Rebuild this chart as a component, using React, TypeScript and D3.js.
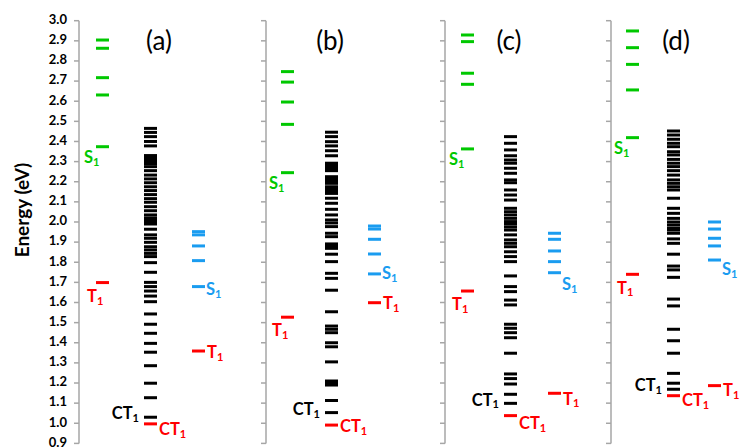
import * as d3 from 'd3';

// Energy levels per panel (eV)
const panelLabels = ['(a)', '(b)', '(c)', '(d)'];

const greenS = [
  [2.904, 2.863, 2.717, 2.631, 2.374],
  [2.747, 2.695, 2.596, 2.485, 2.245],
  [2.929, 2.896, 2.739, 2.684, 2.363],
  [2.949, 2.866, 2.783, 2.656, 2.419],
];
const redT1Left = [1.699, 1.527, 1.657, 1.740];

const ctLevels = [
  [2.465, 2.445, 2.424, 2.40, 2.378, 2.33, 2.32, 2.31, 2.30, 2.29, 2.275, 2.255, 2.233, 2.214, 2.195,
    2.175, 2.156, 2.136, 2.116, 2.098, 2.076, 2.056, 2.035, 2.02, 2.01, 2.00, 1.99, 1.964, 1.936, 1.919,
    1.899, 1.877, 1.861, 1.844, 1.828, 1.798, 1.75, 1.70, 1.679, 1.657, 1.632, 1.604, 1.543, 1.492, 1.447,
    1.397, 1.353, 1.286, 1.199, 1.127, 1.03],
  [2.446, 2.424, 2.399, 2.378, 2.354, 2.329, 2.292, 2.283, 2.273, 2.264, 2.255, 2.225, 2.217, 2.209, 2.20,
    2.192, 2.175, 2.167, 2.159, 2.15, 2.142, 2.118, 2.093, 2.063, 2.035, 2.01, 1.995, 1.977, 1.944, 1.927,
    1.891, 1.881, 1.869, 1.840, 1.803, 1.745, 1.720, 1.661, 1.554, 1.483, 1.467, 1.450, 1.40, 1.380, 1.305,
    1.21, 1.20, 1.19, 1.113, 1.053],
  [2.424, 2.391, 2.358, 2.329, 2.308, 2.292, 2.267, 2.242, 2.209, 2.195, 2.159, 2.134, 2.109, 2.068, 2.051,
    2.035, 2.018, 2.002, 1.99, 1.975, 1.960, 1.936, 1.911, 1.894, 1.877, 1.852, 1.828, 1.803, 1.732, 1.679,
    1.654, 1.612, 1.588, 1.492, 1.472, 1.450, 1.425, 1.348, 1.245, 1.222, 1.195, 1.144, 1.099],
  [2.452, 2.432, 2.411, 2.391, 2.374, 2.349, 2.333, 2.311, 2.292, 2.275, 2.255, 2.233, 2.209, 2.192, 2.175,
    2.159, 2.118, 2.068, 2.043, 2.018, 2.00, 1.985, 1.969, 1.960, 1.944, 1.916, 1.894, 1.840, 1.781, 1.762,
    1.725, 1.617, 1.583, 1.467, 1.410, 1.348, 1.248, 1.199, 1.169],
];
const redCT1 = [0.997, 0.991, 1.038, 1.137];

const blueS = [
  [1.952, 1.936, 1.881, 1.808, 1.679],
  [1.98, 1.965, 1.914, 1.841, 1.742],
  [1.944, 1.914, 1.856, 1.803, 1.748],
  [2.00, 1.965, 1.919, 1.881, 1.811],
];
const redT1Right = [1.359, 1.599, 1.149, 1.187];

const yTicks = d3.range(9, 31).map(d => d / 10);

// layout
const W = 740, H = 447;
const axisX = [79, 266, 445, 611];
const greenX = [96, 281, 461, 626];
const blackX = [144, 325, 504, 667];
const blueX = [192, 368, 548, 708];
const titleX = [159, 330, 509, 676];
const blueLabelDy = [4, 1, 13, 11];
const redRightDy = [3, 2, 7, 6];
const ctRedDy = [7, 3, 9, 6];
const LW = 13;

const GREEN = '#00c800';
const RED = '#ff0000';
const BLUE = '#1a9cf0';
const FONT = 'Lato, "Open Sans", sans-serif';

function Lbl({ x, y, main, color, anchor = 'start' }: { x: number; y: number; main: string; color: string; anchor?: string }) {
  return (
    <text x={x} y={y} fill={color} fontFamily={FONT} fontWeight="bold" fontSize={16.5}
      textAnchor={anchor} dominantBaseline="middle">
      {main}<tspan fontSize={11} dy={4}>1</tspan>
    </text>
  );
}

export default function App() {
  const y = d3.scaleLinear().domain([0.9, 3.0]).range([443.4, 20.7]);

  const bars = (vals: number[], x: number, color: string, key: string) =>
    vals.map((v, i) => (
      <line key={key + i} x1={x} x2={x + LW} y1={y(v)} y2={y(v)} stroke={color} strokeWidth={3} />
    ));

  return (
    <svg width={W} height={H} style={{ position: 'absolute', left: 0, top: 0, background: '#fff' }}>
      <text transform={`translate(24,${210}) rotate(-90)`} textAnchor="middle" dominantBaseline="middle"
        fontFamily={FONT} fontWeight="bold" fontSize={19}>Energy (eV)</text>

      {axisX.map((ax, p) => (
        <g key={'ax' + p}>
          <line x1={ax} x2={ax} y1={y(3.0)} y2={y(0.9)} stroke="#a6a6a6" strokeWidth={1.5} />
          {yTicks.map(t => (
            <line key={t} x1={ax - 5} x2={ax} y1={y(t)} y2={y(t)} stroke="#a6a6a6" strokeWidth={1.5} />
          ))}
          {p === 0 && yTicks.map(t => (
            <text key={'l' + t} x={ax - 12} y={y(t)} textAnchor="end" dominantBaseline="middle"
              fontFamily={FONT} fontWeight="bold" fontSize={13}>{t.toFixed(1)}</text>
          ))}
        </g>
      ))}

      {panelLabels.map((lab, p) => (
        <g key={'p' + p}>
          <text x={titleX[p]} y={50} textAnchor="middle" fontFamily={FONT} fontSize={26}>{lab}</text>

          {bars(greenS[p], greenX[p], GREEN, 'g')}
          <Lbl x={greenX[p] - 12} y={y(greenS[p][greenS[p].length - 1]) + 12} main="S" color={GREEN} />

          {bars([redT1Left[p]], greenX[p], RED, 'rl')}
          <Lbl x={greenX[p] - 9} y={y(redT1Left[p]) + 15} main="T" color={RED} />

          {bars(ctLevels[p], blackX[p], '#000', 'k')}
          <Lbl x={blackX[p] - 5} y={y(ctLevels[p][ctLevels[p].length - 1]) - 2} main="CT" color="#000" anchor="end" />

          {bars([redCT1[p]], blackX[p], RED, 'rc')}
          <Lbl x={blackX[p] + LW + 2} y={y(redCT1[p]) + ctRedDy[p]} main="CT" color={RED} />

          {bars(blueS[p], blueX[p], BLUE, 'b')}
          <Lbl x={blueX[p] + LW + 1} y={y(blueS[p][blueS[p].length - 1]) + blueLabelDy[p]} main="S" color={BLUE} />

          {bars([redT1Right[p]], blueX[p], RED, 'rr')}
          <Lbl x={blueX[p] + LW + 2} y={y(redT1Right[p]) + redRightDy[p]} main="T" color={RED} />
        </g>
      ))}
    </svg>
  );
}
